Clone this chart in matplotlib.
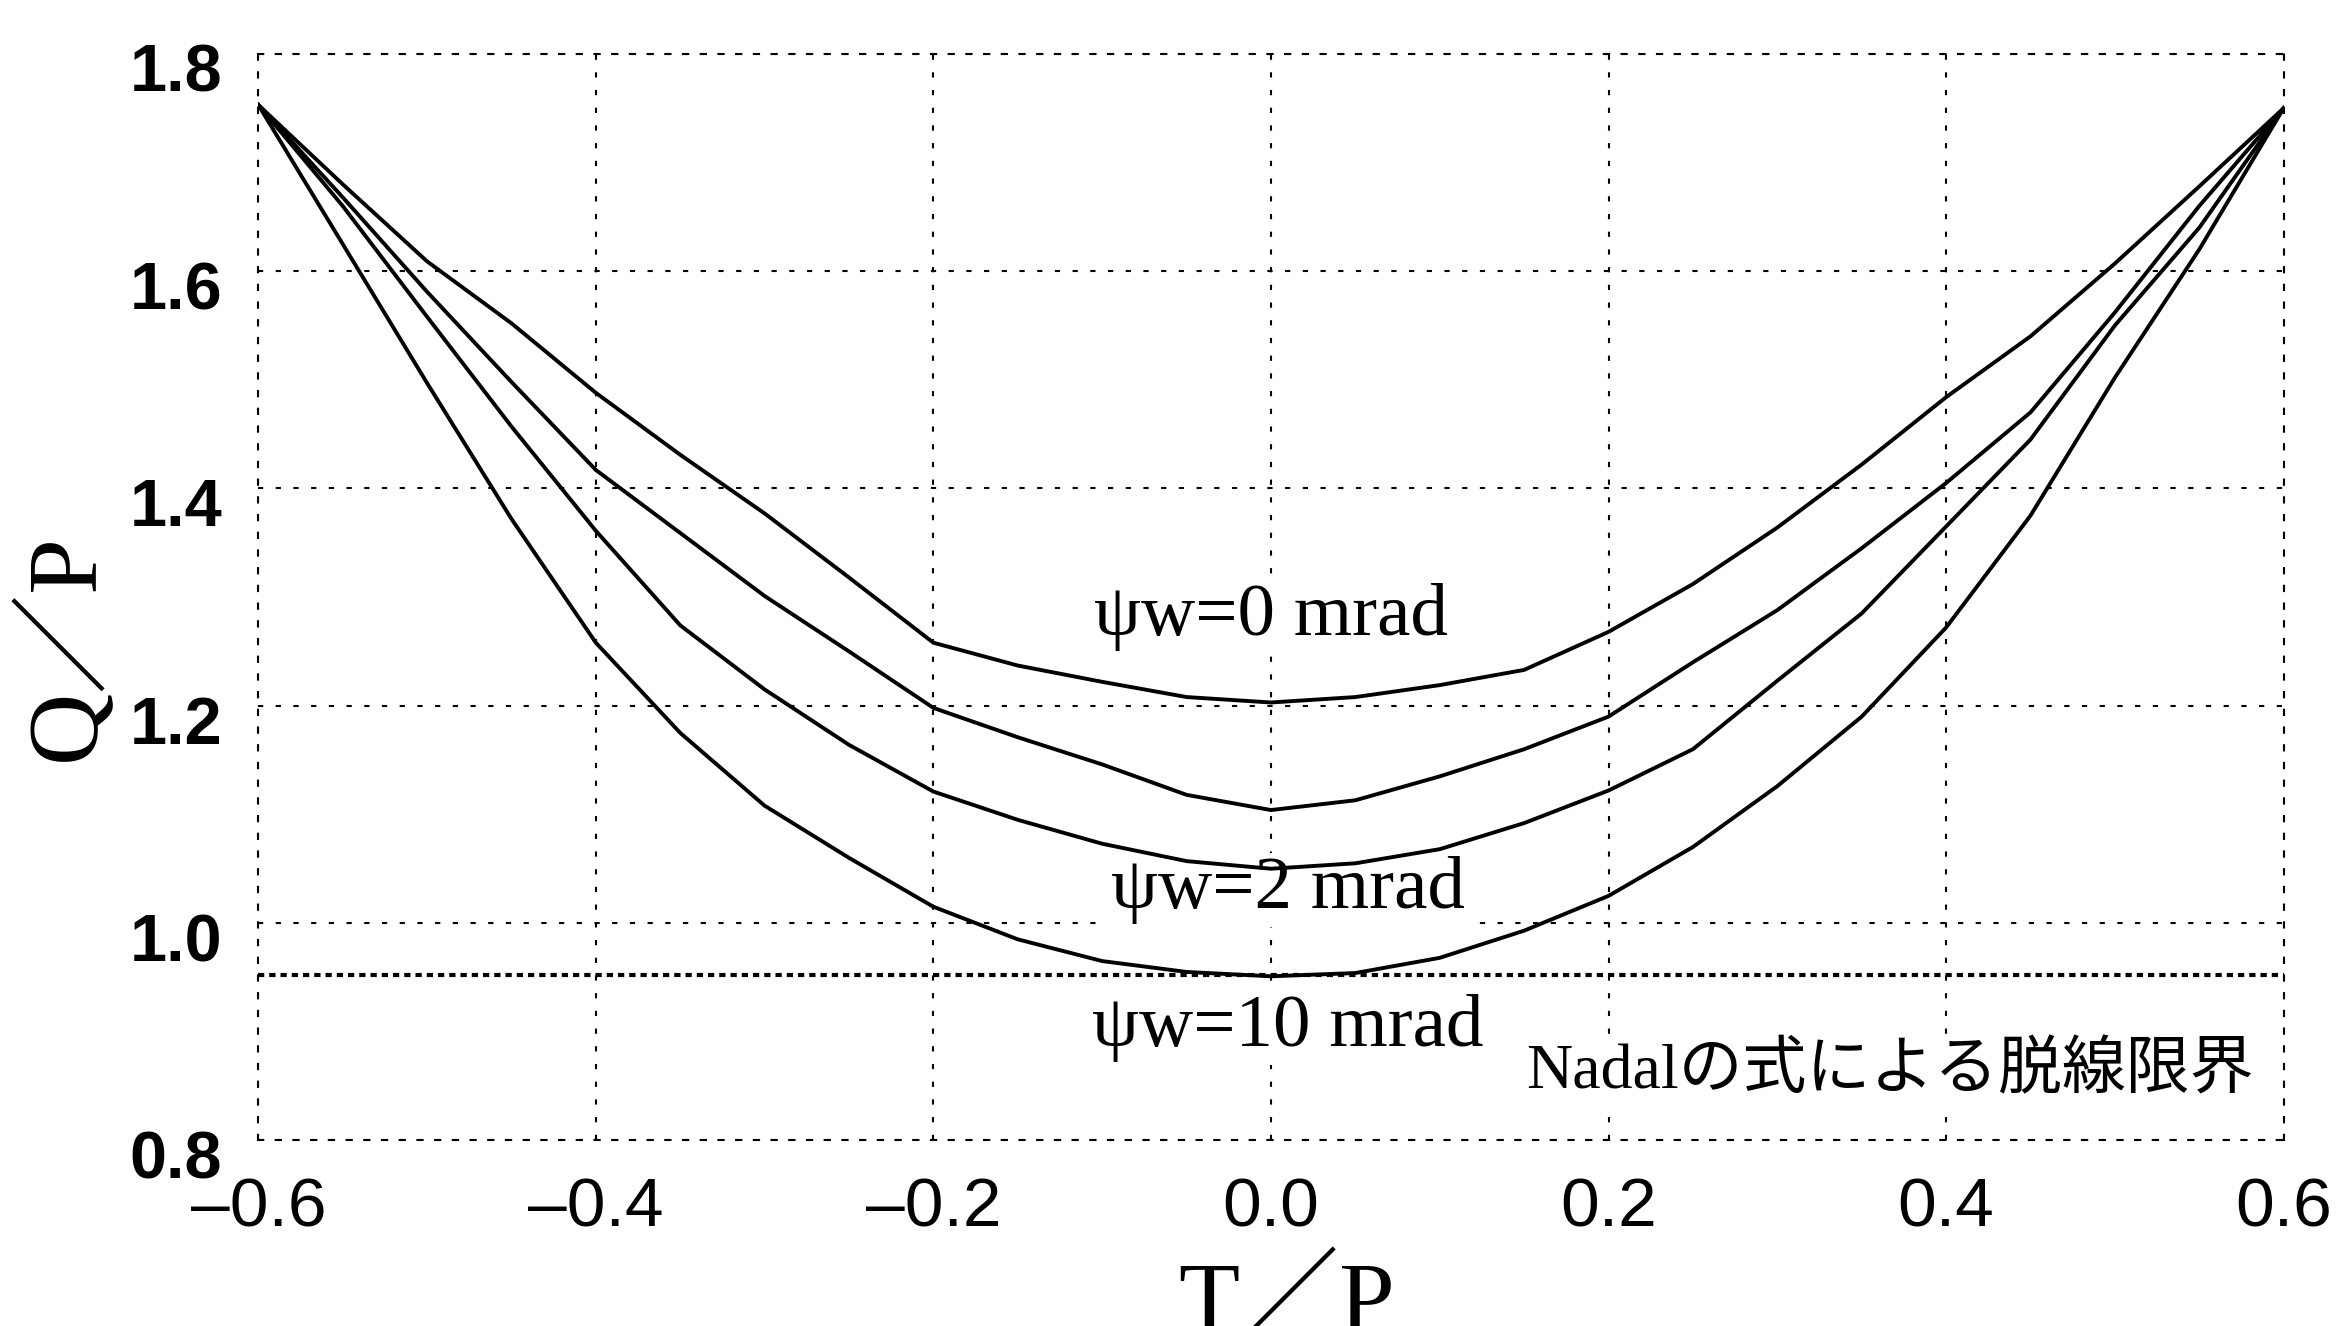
import numpy as np
import matplotlib.pyplot as plt
import matplotlib.transforms as mtransforms

# T/P values and Q/P
tp = [-0.6, -0.55, -0.5, -0.45, -0.4, -0.35, -0.3, -0.25, -0.2, -0.15, -0.1, -0.05,
      0.0, 0.05, 0.1, 0.15, 0.2, 0.25, 0.3, 0.35, 0.4, 0.45, 0.5, 0.55, 0.6]
qp_psi0 = [1.753, 1.680, 1.609, 1.552, 1.488, 1.431, 1.377, 1.318, 1.258, 1.237, 1.222, 1.208,
           1.203, 1.208, 1.219, 1.233, 1.268, 1.312, 1.364, 1.422, 1.484, 1.540, 1.607, 1.678, 1.750]
qp_psi1 = [1.753, 1.668, 1.581, 1.498, 1.417, 1.359, 1.301, 1.250, 1.198, 1.171, 1.146, 1.118,
           1.104, 1.113, 1.135, 1.160, 1.190, 1.240, 1.288, 1.345, 1.405, 1.470, 1.562, 1.660, 1.750]
qp_psi2 = [1.753, 1.660, 1.558, 1.457, 1.361, 1.274, 1.215, 1.164, 1.121, 1.095, 1.073, 1.057,
           1.050, 1.055, 1.068, 1.092, 1.122, 1.160, 1.223, 1.285, 1.365, 1.445, 1.550, 1.640, 1.750]
qp_psi10 = [1.753, 1.625, 1.497, 1.372, 1.258, 1.175, 1.108, 1.060, 1.015, 0.985, 0.965, 0.955,
            0.951, 0.954, 0.968, 0.993, 1.025, 1.070, 1.126, 1.190, 1.272, 1.375, 1.502, 1.620, 1.750]
nadal_limit = 0.952

xticks = [-0.6, -0.4, -0.2, 0.0, 0.2, 0.4, 0.6]
xlabels = ['–0.6', '–0.4', '–0.2', '0.0', '0.2', '0.4', '0.6']
yticks = [0.8, 1.0, 1.2, 1.4, 1.6, 1.8]
ylabels = ['0.8', '1.0', '1.2', '1.4', '1.6', '1.8']

serif = ['Liberation Serif', 'Noto Sans CJK JP']

fig = plt.figure(figsize=(23.48, 13.26), dpi=100)
ax = fig.add_axes([0.110, 0.140, 0.8626, 0.8194])

for y in [qp_psi0, qp_psi1, qp_psi2, qp_psi10]:
    ax.plot(tp, y, color='black', lw=2.8, zorder=3)
ax.plot([-0.6, 0.6], [nadal_limit, nadal_limit], color='black', lw=3,
        linestyle=(0, (1.5, 1.2)), zorder=3)

ax.set_xlim(-0.6, 0.6)
ax.set_ylim(0.8, 1.8)
ax.set_xticks(xticks)
ax.set_yticks(yticks)
ax.set_xticklabels(xlabels)
ax.set_yticklabels(ylabels)
ax.grid(True, color='black', lw=1.5, linestyle=(0, (2.5, 6)))
ax.set_axisbelow(True)
for s in ax.spines.values():
    s.set_linestyle((0, (2.5, 6)))
    s.set_linewidth(1.5)
ax.tick_params(axis='x', length=0, labelsize=50, pad=26)
ax.tick_params(axis='y', length=0, labelsize=48, pad=26)
for lab in ax.get_xticklabels():
    lab.set_fontfamily('Liberation Sans')
for lab in ax.get_yticklabels():
    lab.set_fontfamily('Liberation Sans')
    lab.set_fontweight('bold')
off = mtransforms.ScaledTranslation(0, -14 / 100, fig.dpi_scale_trans)
for lab in ax.get_yticklabels():
    lab.set_transform(lab.get_transform() + off)

box = dict(facecolor='white', edgecolor='none', pad=2)
ax.text(0.0, 1.282, 'ψw=0 mrad', family=serif, fontsize=54, ha='center', va='center',
        bbox=box, zorder=2.5)
ax.text(0.01, 1.03, 'ψw=2 mrad', family=serif, fontsize=54, ha='center', va='center',
        bbox=box, zorder=2.5)
ax.text(0.01, 0.903, 'ψw=10 mrad', family=serif, fontsize=54, ha='center', va='center',
        bbox=box, zorder=2.5)
ax.text(0.582, 0.862, 'Nadalの式による脱線限界', family=serif, fontsize=46,
        ha='right', va='center', bbox=box, zorder=2.5)

fig.text(0.027, 0.512, 'Q／P', family=serif, fontsize=72, rotation=90,
         ha='center', va='center')
fig.text(0.548, 0.050, 'T／P', family=serif, fontsize=72, ha='center', va='top')

fig.savefig('out.png', dpi=100)
